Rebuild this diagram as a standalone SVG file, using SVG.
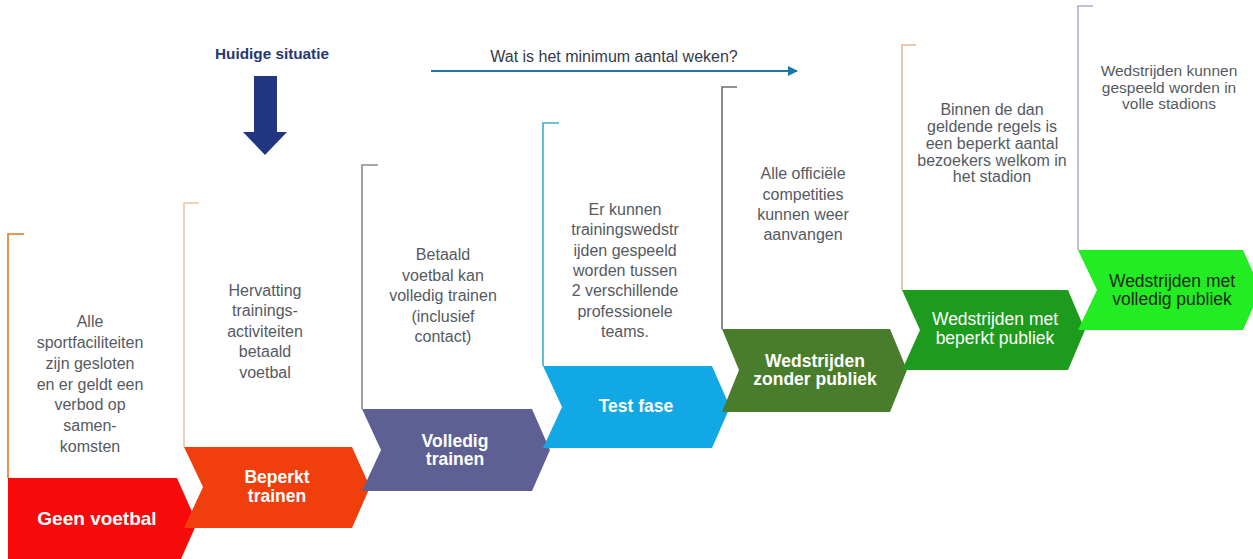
<svg xmlns="http://www.w3.org/2000/svg" width="1253" height="559" viewBox="0 0 1253 559">
<defs>
<style>
.br{fill:none;stroke-width:1.6}
.lbl{font-family:"Liberation Sans",Arial,sans-serif;font-size:17.5px;font-weight:bold;fill:#ffffff;text-anchor:middle}
.lbr{font-family:"Liberation Sans",Arial,sans-serif;font-size:17.5px;fill:#ffffff;text-anchor:middle}
.desc{font-family:"Liberation Sans",Arial,sans-serif;font-size:16px;fill:#555a62;text-anchor:middle}
</style>
<marker id="ah" viewBox="0 0 10 10" refX="9" refY="5" markerWidth="5" markerHeight="5" orient="auto" markerUnits="strokeWidth">
<path d="M0,0 L10,5 L0,10 z" fill="#1b78a8"/>
</marker>
</defs>
<rect width="1253" height="559" fill="#ffffff"/>

<g id="header">
<text x="272" y="59" font-family="Liberation Sans,Arial,sans-serif" font-size="15.3" font-weight="bold" fill="#253775" text-anchor="middle">Huidige situatie</text>
<path d="M254,76 H277 V132 H287 L265,155 L243,132 H254 Z" fill="#213580"/>
<text x="614" y="62" font-family="Liberation Sans,Arial,sans-serif" font-size="16" fill="#333c4a" text-anchor="middle">Wat is het minimum aantal weken?</text>
</g>

<g id="connectors">
<line x1="431" y1="71" x2="797" y2="71" stroke="#1b78a8" stroke-width="2" marker-end="url(#ah)"/>
<path class="br" d="M24,234 H8 V478" stroke="#d9772e"/>
<path class="br" d="M199,203 H184 V447" stroke="#eec4a0"/>
<path class="br" d="M378,165 H362 V409" stroke="#8a8a8a"/>
<path class="br" d="M559,123 H543 V366" stroke="#3ab0c8"/>
<path class="br" d="M737,87 H722 V329" stroke="#6e6e6e"/>
<path class="br" d="M916,45 H902 V290" stroke="#e8b894"/>
<path class="br" d="M1093,6 H1078 V250" stroke="#aab0c8"/>
</g>

<g id="step1">
<path d="M8,478 H177 L197,523 L177,568 H8 Z" fill="#f80a0a"/>
<text class="lbl" x="97" y="525" style="font-size:19px">Geen voetbal</text>
<text class="desc" x="90" y="327">Alle</text>
<text class="desc" x="90" y="348">sportfaciliteiten</text>
<text class="desc" x="90" y="369">zijn gesloten</text>
<text class="desc" x="90" y="390">en er geldt een</text>
<text class="desc" x="90" y="410">verbod op</text>
<text class="desc" x="90" y="431">samen-</text>
<text class="desc" x="90" y="452">komsten</text>
</g>

<g id="step2">
<path d="M184,447 H352 L370,487 L352,528 H184 L203,487 Z" fill="#f03e0c"/>
<text class="lbl" x="277" y="483">Beperkt</text>
<text class="lbl" x="277" y="502">trainen</text>
<text class="desc" x="265" y="296">Hervatting</text>
<text class="desc" x="265" y="316">trainings-</text>
<text class="desc" x="265" y="337">activiteiten</text>
<text class="desc" x="265" y="357">betaald</text>
<text class="desc" x="265" y="378">voetbal</text>
</g>

<g id="step3">
<path d="M362,409 H532 L550,450 L532,491 H362 L381,450 Z" fill="#5e6094"/>
<text class="lbl" x="455" y="447">Volledig</text>
<text class="lbl" x="455" y="465">trainen</text>
<text class="desc" x="443" y="260">Betaald</text>
<text class="desc" x="443" y="281">voetbal kan</text>
<text class="desc" x="443" y="301">volledig trainen</text>
<text class="desc" x="443" y="322">(inclusief</text>
<text class="desc" x="443" y="342">contact)</text>
</g>

<g id="step4">
<path d="M543,366 H712 L730,407 L712,448 H543 L562,407 Z" fill="#12a8e6"/>
<text class="lbl" x="636" y="412">Test fase</text>
<text class="desc" x="625" y="215">Er kunnen</text>
<text class="desc" x="625" y="235">trainingswedstr</text>
<text class="desc" x="625" y="256">ijden gespeeld</text>
<text class="desc" x="625" y="276">worden tussen</text>
<text class="desc" x="625" y="296">2 verschillende</text>
<text class="desc" x="625" y="317">professionele</text>
<text class="desc" x="625" y="337">teams.</text>
</g>

<g id="step5">
<path d="M722,329 H890 L907,370 L890,412 H722 L739,370 Z" fill="#4a7d2b"/>
<text class="lbl" x="815" y="367">Wedstrijden</text>
<text class="lbl" x="815" y="385">zonder publiek</text>
<text class="desc" x="803" y="179">Alle officiële</text>
<text class="desc" x="803" y="200">competities</text>
<text class="desc" x="803" y="220">kunnen weer</text>
<text class="desc" x="803" y="240">aanvangen</text>
</g>

<g id="step6">
<path d="M902,290 H1068 L1085,330 L1068,370 H902 L920,330 Z" fill="#1d9b1d"/>
<text class="lbr" x="995" y="325">Wedstrijden met</text>
<text class="lbr" x="995" y="344">beperkt publiek</text>
<text class="desc" x="992" y="115">Binnen de dan</text>
<text class="desc" x="992" y="132">geldende regels is</text>
<text class="desc" x="992" y="149">een beperkt aantal</text>
<text class="desc" x="992" y="166">bezoekers welkom in</text>
<text class="desc" x="992" y="182">het stadion</text>
</g>

<g id="step7">
<path d="M1078,250 H1243 L1261,290 L1243,330 H1078 L1097,290 Z" fill="#22ec22"/>
<text class="lbr" x="1172" y="287" style="fill:#1c2a1c">Wedstrijden met</text>
<text class="lbr" x="1172" y="305" style="fill:#1c2a1c">volledig publiek</text>
<text class="desc" x="1169" y="76" style="font-size:15.5px">Wedstrijden kunnen</text>
<text class="desc" x="1169" y="93" style="font-size:15.5px">gespeeld worden in</text>
<text class="desc" x="1169" y="109" style="font-size:15.5px">volle stadions</text>
</g>
</svg>
